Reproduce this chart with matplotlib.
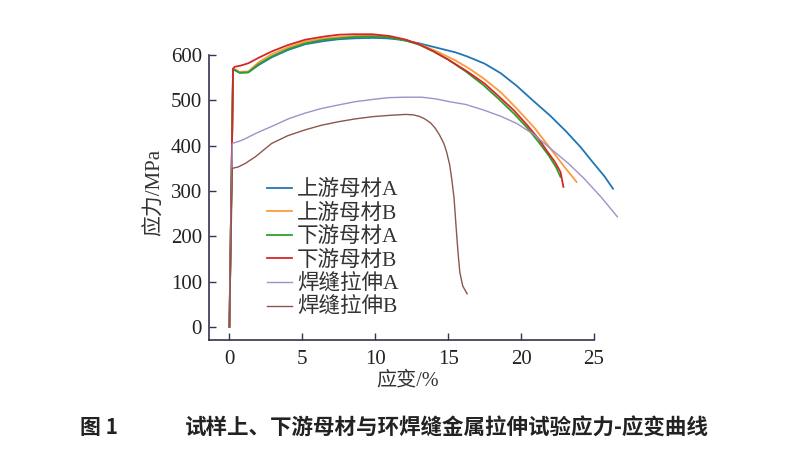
import matplotlib
matplotlib.use("Agg")
import matplotlib.pyplot as plt

plt.rcParams['font.family'] = ['Liberation Serif', 'Noto Sans CJK SC', 'DejaVu Sans']

# ---- data (strain %, stress MPa) ----
up_a_x = [0, 0.25, 0.4, 0.7, 1.3, 2.0, 2.9, 4.0, 5.2, 6.5, 7.5, 8.6, 9.8, 10.8, 11.7, 13.0, 14.5, 15.5, 16.3, 17.5, 18.6, 19.7, 20.8, 22.0, 23.1, 24.1, 25.0, 25.7, 26.3]
up_a_y = [0, 568, 566, 561, 562, 578, 595, 611, 624, 631, 635, 637, 638, 637, 634, 626, 614, 606, 597, 581, 560, 532, 500, 466, 431, 396, 360, 333, 305]

up_b_x = [0, 0.25, 0.4, 0.7, 1.3, 2.0, 2.9, 4.0, 5.2, 6.5, 7.5, 8.6, 9.8, 11.0, 12.1, 13.2, 14.3, 15.5, 16.5, 17.4, 18.6, 19.7, 20.9, 22.0, 22.9, 23.8]
up_b_y = [0, 570, 568, 563, 564, 584, 602, 617, 630, 637, 640, 642, 643, 640, 633, 622, 607, 588, 569, 549, 518, 482, 440, 394, 356, 320]

dn_a_x = [0, 0.25, 0.4, 0.7, 1.3, 2.0, 2.9, 4.0, 5.2, 6.5, 7.5, 8.6, 9.8, 11.0, 12.1, 13.0, 14.0, 15.0, 16.2, 17.4, 18.5, 19.5, 20.4, 21.2, 21.9, 22.4, 22.7]
dn_a_y = [0, 569, 567, 561, 562, 580, 597, 613, 626, 634, 637, 640, 641, 639, 632, 623, 608, 590, 564, 534, 502, 471, 440, 408, 378, 352, 331]

dn_b_x = [0, 0.25, 0.35, 0.8, 1.3, 2.0, 2.9, 4.0, 5.2, 6.5, 7.5, 8.5, 9.8, 11.0, 12.1, 13.0, 14.0, 15.0, 16.3, 17.5, 18.6, 19.5, 20.4, 21.2, 21.8, 22.3, 22.7, 22.9]
dn_b_y = [0, 570, 574, 577, 582, 594, 608, 622, 634, 641, 645, 646, 646, 642, 634, 624, 608, 590, 564, 537, 505, 478, 446, 415, 387, 365, 342, 309]

weld_a_x = [0, 0.2, 0.6, 1.0, 1.8, 3.0, 4.1, 5.2, 6.3, 7.5, 8.6, 9.8, 10.9, 12.0, 13.2, 14.2, 15.1, 16.2, 17.4, 18.6, 19.7, 20.9, 22.0, 23.2, 24.3, 25.5, 26.6]
weld_a_y = [0, 405, 409, 414, 427, 444, 460, 472, 482, 490, 497, 502, 506, 507, 507, 503, 497, 491, 479, 465, 449, 424, 394, 362, 328, 286, 243]

weld_b_x = [0, 0.2, 0.6, 1.1, 1.8, 2.9, 4.0, 5.2, 6.3, 7.5, 8.6, 9.8, 11.0, 12.1, 12.6, 13.0, 13.4, 13.8, 14.1, 14.4, 14.7, 14.9, 15.1, 15.25, 15.4, 15.5, 15.6, 15.7, 15.8, 16.0, 16.3]
weld_b_y = [0, 350, 353, 361, 376, 405, 422, 435, 445, 453, 459, 464, 467, 469, 468, 465, 459, 450, 439, 424, 405, 385, 358, 325, 285, 240, 195, 155, 120, 90, 73]

labels = ['上游母材A', '上游母材B', '下游母材A', '下游母材B', '焊缝拉伸A', '焊缝拉伸B']
colors = ['#1f77b4', '#ff9a3c', '#2ca02c', '#d62728', '#9d93c8', '#8c564b']
xticks = [0, 5, 10, 15, 20, 25]
yticks = [0, 100, 200, 300, 400, 500, 600]

series = [(up_a_x, up_a_y), (up_b_x, up_b_y), (dn_a_x, dn_a_y), (dn_b_x, dn_b_y),
          (weld_a_x, weld_a_y), (weld_b_x, weld_b_y)]
widths = [1.3, 1.3, 1.3, 1.3, 1.0, 1.0]

W, H = 796, 458
fig = plt.figure(figsize=(W / 100, H / 100), dpi=100)
ax = fig.add_axes([209 / W, 1 - 340 / H, (630.5 - 209) / W, (340 - 27.9) / H])

for (xs, ys), lab, c, lw in zip(series, labels, colors, widths):
    ax.plot(xs, ys, color=c, lw=lw, label=lab, solid_joinstyle='round')

ax.set_xlim(-1.4, 27.5)
ax.set_ylim(-29, 660)
ax.set_xticks(xticks)
ax.set_yticks(yticks)
ax.spines['top'].set_visible(False)
ax.spines['right'].set_visible(False)
ax.spines['left'].set_bounds(-29, 600)
ax.spines['bottom'].set_bounds(-1.4, 25)
for s in ('left', 'bottom'):
    ax.spines[s].set_color('#3a3050')
    ax.spines[s].set_linewidth(1.2)
ax.tick_params(axis='both', direction='in', length=5, width=1.0, colors='#3a3050',
               labelsize=15, labelcolor='#222222')
ax.tick_params(axis='x', pad=7)
ax.tick_params(axis='y', pad=5)

fig.text(155 / W, 1 - 192 / H, '应力/MPa', rotation=90, ha='center', va='center',
         fontsize=15, color='#333333')
fig.text(408 / W, 1 - 381 / H, '应变/%', ha='center', va='center',
         fontsize=14.5, color='#333333')

leg = ax.legend(loc='upper left', bbox_to_anchor=(267 / W, 1 - 180 / H),
                bbox_transform=fig.transFigure, frameon=False, borderpad=0,
                borderaxespad=0, handlelength=1.15, handletextpad=0.25,
                labelspacing=0.16,
                prop={'family': ['Liberation Serif', 'Noto Sans CJK SC'], 'size': 15.5})
for t in leg.get_texts():
    t.set_color('#333333')

fig.text(80 / W, 1 - 428 / H, '图 1', ha='left', va='center', fontsize=15,
         fontweight='bold', family=['Noto Sans CJK SC'], color='#222222')
fig.text(447 / W, 1 - 428 / H, '试样上、下游母材与环焊缝金属拉伸试验应力-应变曲线',
         ha='center', va='center', fontsize=15.5, fontweight='bold',
         family=['Noto Sans CJK SC'], color='#222222')

fig.savefig('out.png', dpi=100)
